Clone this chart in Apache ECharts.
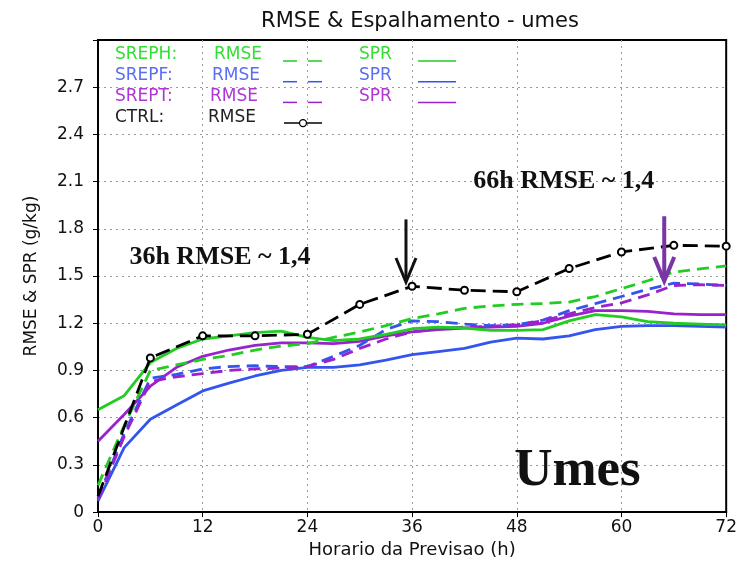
<!DOCTYPE html>
<html>
<head>
<meta charset="utf-8">
<script src="https://cdn.jsdelivr.net/npm/echarts@6/dist/echarts.min.js"></script>
<style>
  html, body { margin: 0; padding: 0; background: #fff; }
  #main { width: 740px; height: 564px; }
</style>
</head>
<body>
<div id="main"></div>
<script>
// forecast hours (3h step) and CTRL hours (6h step)
var hours = [0, 3, 6, 9, 12, 15, 18, 21, 24, 27, 30, 33, 36, 39, 42, 45, 48, 51, 54, 57, 60, 63, 66, 69, 72];
var ctrlHours = [0, 6, 12, 18, 24, 30, 36, 42, 48, 54, 60, 66, 72];

var srephRmse = [0.17, 0.55, 0.90, 0.935, 0.97, 0.995, 1.03, 1.055, 1.07, 1.11, 1.145, 1.185, 1.23, 1.26, 1.295, 1.31, 1.32, 1.325, 1.335, 1.37, 1.42, 1.47, 1.525, 1.545, 1.565];
var srephSpr = [0.65, 0.74, 0.95, 1.04, 1.10, 1.12, 1.14, 1.15, 1.11, 1.09, 1.10, 1.13, 1.165, 1.175, 1.17, 1.155, 1.155, 1.16, 1.215, 1.255, 1.24, 1.21, 1.20, 1.195, 1.19];
var srepfRmse = [0.09, 0.50, 0.85, 0.875, 0.91, 0.925, 0.93, 0.925, 0.925, 0.99, 1.06, 1.16, 1.215, 1.21, 1.195, 1.185, 1.19, 1.22, 1.28, 1.325, 1.37, 1.415, 1.455, 1.45, 1.44];
var srepfSpr = [0.07, 0.41, 0.59, 0.68, 0.77, 0.82, 0.865, 0.90, 0.92, 0.92, 0.935, 0.965, 1.0, 1.02, 1.04, 1.08, 1.105, 1.10, 1.12, 1.16, 1.18, 1.185, 1.185, 1.18, 1.175];
var sreptRmse = [0.08, 0.48, 0.83, 0.86, 0.88, 0.90, 0.91, 0.915, 0.925, 0.97, 1.04, 1.10, 1.145, 1.165, 1.175, 1.18, 1.19, 1.215, 1.26, 1.30, 1.33, 1.38, 1.44, 1.445, 1.44];
var sreptSpr = [0.45, 0.62, 0.80, 0.92, 0.99, 1.03, 1.06, 1.075, 1.075, 1.07, 1.085, 1.12, 1.145, 1.16, 1.17, 1.175, 1.18, 1.20, 1.245, 1.28, 1.28, 1.275, 1.26, 1.255, 1.255];
var ctrlRmse = [0.10, 0.98, 1.12, 1.12, 1.13, 1.32, 1.435, 1.41, 1.40, 1.548, 1.653, 1.695, 1.69];

var xTicks = [0, 12, 24, 36, 48, 60, 72];
var yTicks = [0, 0.3, 0.6, 0.9, 1.2, 1.5, 1.8, 2.1, 2.4, 2.7];

var GREEN = '#22cc22', BLUE = '#3355ee', PURPLE = '#9922cc';
var txtFont = '"DejaVu Sans", sans-serif';

function pairs(xs, ys) {
  return xs.map(function (h, i) { return [h, ys[i]]; });
}

function line(name, xs, ys, color, dashed) {
  return {
    name: name,
    type: 'line',
    data: pairs(xs, ys),
    showSymbol: false,
    lineStyle: { color: color, width: 2.8, type: dashed ? [12, 7] : 'solid' },
    itemStyle: { color: color }
  };
}

var myChart = echarts.init(document.getElementById('main'));

// no marker on the first CTRL point (as in the original)
var ctrlData = pairs(ctrlHours, ctrlRmse).map(function (p, i) {
  return i === 0 ? { value: p, symbol: 'none' } : p;
});

var option = {
  animation: false,
  title: {
    text: 'RMSE & Espalhamento - umes',
    left: 415, top: 6, textAlign: 'center',
    textStyle: { fontFamily: txtFont, fontWeight: 'normal', fontSize: 21, color: '#111' }
  },
  grid: { left: 98, right: 11, top: 40, bottom: 44, show: true, borderColor: '#000', borderWidth: 2 },
  xAxis: {
    type: 'value', min: 0, max: 72, interval: 12,
    name: 'Horario da Previsao (h)', nameLocation: 'middle', nameGap: 22,
    nameTextStyle: { fontFamily: txtFont, fontSize: 18, color: '#111' },
    axisLine: { lineStyle: { color: '#000', width: 2 } },
    axisTick: { show: true, inside: false, length: 5, lineStyle: { color: '#000' } },
    axisLabel: {
      margin: 7, fontFamily: txtFont, fontSize: 17, color: '#111',
      formatter: function (v) { return xTicks.indexOf(v) >= 0 ? String(v) : ''; }
    },
    splitLine: { show: true, showMinLine: false, showMaxLine: false, lineStyle: { color: '#999', type: [2, 4], width: 1 } }
  },
  yAxis: {
    type: 'value', min: 0, max: 3.0, interval: 0.3,
    name: 'RMSE & SPR (g/kg)', nameLocation: 'middle', nameGap: 58,
    nameTextStyle: { fontFamily: txtFont, fontSize: 17, color: '#111' },
    axisLine: { show: true, lineStyle: { color: '#000', width: 2 } },
    axisTick: { show: true, inside: false, length: 5, lineStyle: { color: '#000' } },
    axisLabel: {
      margin: 14, fontFamily: txtFont, fontSize: 17, color: '#111',
      formatter: function (v) {
        if (v > 2.95) return '';
        if (v === 0) return '0';
        return v.toFixed(1);
      }
    },
    splitLine: { show: true, showMinLine: false, showMaxLine: false, lineStyle: { color: '#999', type: [2, 4], width: 1 } }
  },
  series: [
    line('SREPF SPR', hours, srepfSpr, BLUE, false),
    line('SREPT SPR', hours, sreptSpr, PURPLE, false),
    line('SREPF RMSE', hours, srepfRmse, BLUE, true),
    line('SREPT RMSE', hours, sreptRmse, PURPLE, true),
    line('SREPH RMSE', hours, srephRmse, GREEN, true),
    line('SREPH SPR', hours, srephSpr, GREEN, false),
    {
      name: 'CTRL RMSE',
      type: 'line',
      data: ctrlData,
      symbol: 'emptyCircle', symbolSize: 7, showSymbol: true,
      lineStyle: { color: '#000', width: 2.8, type: [15, 7] },
      itemStyle: { color: '#000', borderWidth: 1.5 }
    }
  ]
};

myChart.setOption(option);

// legend block drawn inside the plot (GrADS style)
var legendRows = [
  { label: 'SREPH:', color: '#33dd33', line: GREEN, spr: true },
  { label: 'SREPF:', color: '#5a6ef0', line: BLUE, spr: true },
  { label: 'SREPT:', color: '#b035d5', line: PURPLE, spr: true },
  { label: 'CTRL:', color: '#222', line: '#000', spr: false }
];

var g = [];
legendRows.forEach(function (r, i) {
  var cy = 55 + i * 20.7;
  var font = '17px ' + txtFont;
  g.push({ type: 'text', x: 115, y: cy, style: { text: r.label, fill: r.color, font: font, verticalAlign: 'middle', textVerticalAlign: 'middle' } });
  g.push({ type: 'text', x: 214 - i * 2, y: cy, style: { text: 'RMSE', fill: r.color, font: font, verticalAlign: 'middle', textVerticalAlign: 'middle' } });
  if (r.spr) {
    g.push({ type: 'line', shape: { x1: 283, y1: cy + 6, x2: 297, y2: cy + 6 }, style: { stroke: r.line, lineWidth: 1.5 } });
    g.push({ type: 'line', shape: { x1: 308, y1: cy + 6, x2: 322, y2: cy + 6 }, style: { stroke: r.line, lineWidth: 1.5 } });
    g.push({ type: 'text', x: 359, y: cy, style: { text: 'SPR', fill: r.color, font: font, verticalAlign: 'middle', textVerticalAlign: 'middle' } });
    g.push({ type: 'line', shape: { x1: 418, y1: cy + 6, x2: 456, y2: cy + 6 }, style: { stroke: r.line, lineWidth: 1.5 } });
  } else {
    g.push({ type: 'line', shape: { x1: 284, y1: cy + 6, x2: 322, y2: cy + 6 }, style: { stroke: '#000', lineWidth: 1.5 } });
    g.push({ type: 'circle', shape: { cx: 303, cy: cy + 6, r: 3.5 }, style: { fill: '#fff', stroke: '#000', lineWidth: 1.3 } });
  }
});

// annotations placed in data coordinates
var notes = [
  { text: '36h RMSE ~ 1,4', at: [3.6, 1.62], size: 26 },
  { text: '66h RMSE ~ 1,4', at: [43.0, 2.105], size: 26 },
  { text: 'Umes', at: [47.7, 0.26], size: 53 }
];
notes.forEach(function (n) {
  var p = myChart.convertToPixel({ gridIndex: 0 }, n.at);
  g.push({
    type: 'text', x: p[0], y: p[1], z: 100,
    style: { text: n.text, fill: '#111', font: 'bold ' + n.size + 'px "Liberation Serif", "DejaVu Serif", serif', verticalAlign: 'middle', textVerticalAlign: 'middle' }
  });
});

var arrows = [
  { h: 35.3, from: 1.86, to: 1.462, color: '#111', width: 3 },
  { h: 64.9, from: 1.88, to: 1.468, color: '#7a35a5', width: 4 }
];
arrows.forEach(function (a) {
  var top = myChart.convertToPixel({ gridIndex: 0 }, [a.h, a.from]);
  var tip = myChart.convertToPixel({ gridIndex: 0 }, [a.h, a.to]);
  g.push({ type: 'line', z: 100, shape: { x1: top[0], y1: top[1], x2: tip[0], y2: tip[1] - 2 }, style: { stroke: a.color, lineWidth: a.width } });
  g.push({
    type: 'polyline', z: 100,
    shape: { points: [[tip[0] - 10, tip[1] - 24], [tip[0], tip[1]], [tip[0] + 10, tip[1] - 24]] },
    style: { stroke: a.color, lineWidth: a.width, fill: null, lineJoin: 'miter' }
  });
});

myChart.setOption({ graphic: g });
</script>
</body>
</html>
